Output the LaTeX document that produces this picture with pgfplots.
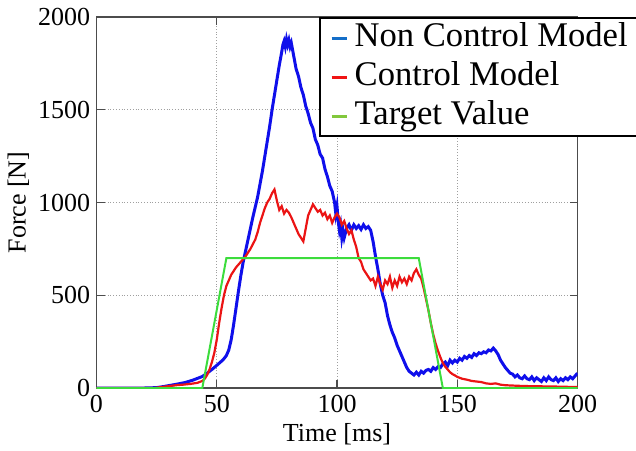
\documentclass[border=0pt]{standalone}
\usepackage{fontspec}
\setmainfont{Liberation Serif}
\newfontfamily\tnr{Liberation Serif}
\usepackage{pgfplots}
\pgfplotsset{compat=1.18}
\definecolor{cBlue}{RGB}{15,15,235}
\definecolor{cRed}{RGB}{235,20,20}
\definecolor{cGreen}{RGB}{60,220,60}
\definecolor{lBlue}{RGB}{20,110,200}
\definecolor{lRed}{RGB}{240,20,20}
\definecolor{lGreen}{RGB}{130,200,60}
\newcommand{\tkfont}{\tnr\fontsize{13}{15}\selectfont}
\newcommand{\lgfont}{\tnr\fontsize{17.3}{19}\selectfont}
\begin{document}
\begin{tikzpicture}
\begin{axis}[
    at={(0,0)}, anchor=south west,
    width=240.5pt, height=185.5pt, scale only axis,
    xmin=0, xmax=200, ymin=0, ymax=2000,
    xtick={0,50,100,150,200}, ytick={0,500,1000,1500,2000},
    xticklabels={{\tkfont 0},{\tkfont 50},{\tkfont 100},{\tkfont 150},{\tkfont 200}},
    yticklabels={{\tkfont 0},{\tkfont 500},{\tkfont 1000},{\tkfont 1500},{\tkfont 2000}},
    grid=major, grid style={densely dotted, gray!75, line width=0.5pt},
    axis line style={black!70, line width=0.8pt},
    tick style={black!70, line width=0.6pt}, tick align=inside, major tick length=4pt,
    yticklabel style={inner sep=3pt},
    xlabel={\tkfont Time [ms]}, ylabel={\tkfont Force [N]},
    xlabel style={yshift=1.5pt},
    ylabel style={yshift=-2pt},
    legend style={at={(0.4626,1)}, anchor=north west, draw=black, line width=1pt,
      inner sep=0.5pt, row sep=0.5pt, column sep=1.85pt,
      nodes={inner sep=1.5pt, text height=12pt, text depth=4pt}},
    legend cell align=left,
    legend image code/.code={\path (0pt,0pt); \draw[#1] (4.5pt,0pt) -- (12pt,0pt);},
]
\addlegendimage{lBlue, line width=1.5pt}
\addlegendentry{\lgfont Non Control Model\kern12pt}
\addlegendimage{lRed, line width=1.5pt}
\addlegendentry{\lgfont Control Model}
\addlegendimage{lGreen, line width=1.5pt}
\addlegendentry{\lgfont Target Value}
% non control model
\addplot[forget plot, cBlue, line width=1.5pt] coordinates {
  (0,0) (20,0) (25,2) (28,8) (31,15) (34,22) (37,30) (40,42) (42,52) (44,62)
  (46,80) (48,100) (50,122) (52,145) (53,158) (54,175) (55,205) (56,260) (57,340) (58,430)
  (59,520) (60,605) (61,680) (62,740) (63,800) (64,860) (65,920) (66,975) (67,1030)
  (68,1100) (69,1170) (70,1250) (71,1330) (72,1410) (73,1500) (74,1580) (75,1660)
  (76,1740) (77,1810) (77.5,1850) (78,1870) (78.5,1840) (79,1880) (79.5,1850)
  (80,1875) (80.5,1840) (81,1860) (82,1790) (83,1720) (84,1680) (85,1620) (86,1580)
  (87,1520) (88,1480) (89,1430) (90,1400) (91,1340) (92,1310) (93,1260) (94,1240)
  (95,1180) (96,1140) (97,1090) (98,1060) (99,1000) (99.5,940) (100,980) (100.5,900)
  (101,850) (101.5,880) (102,810) (102.5,850) (103,810) (104,860) (105,880) (106,850) (107,880) (108,860)
  (109,875) (110,855) (111,880) (112,860) (113,870) (114,850) (115,790) (116,710)
  (117,640) (118,560) (119,500) (120,460) (121,390) (122,340) (123,300) (124,270)
  (125,230) (126,200) (127,170) (128,140) (129,110) (130,90) (131,80) (132,70)
  (133,85) (134,70) (135,90) (136,80) (137,95) (138,100) (139,90) (140,110)
  (141,100) (142,115) (143,110) (144,130) (145,140) (146,120) (147,150) (148,135)
  (149,150) (150,140) (151,160) (152,150) (153,170) (154,160) (155,175) (156,165)
  (157,185) (158,175) (159,190) (160,185) (161,195) (162,190) (163,205) (164,200)
  (165,215) (166,200) (167,180) (168,150) (169,130) (170,110) (171,95) (172,80)
  (173,75) (174,60) (175,70) (176,55) (177,50) (178,65) (179,50) (180,45) (181,60)
  (182,40) (183,55) (184,45) (185,35) (186,55) (187,40) (188,60) (189,45) (190,40)
  (191,55) (192,35) (193,50) (194,40) (195,55) (196,45) (197,60) (198,50) (199,65)
  (200,80)};
% control model
\addplot[forget plot, cRed, line width=1.1pt] coordinates {
  (0,0) (24,0) (27,5) (30,10) (33,15) (36,18) (39,22) (42,28) (44,38) (45,50)
  (46,70) (47,100) (48,140) (49,190) (50,260) (51,350) (52,430) (53,500) (54,550)
  (55,580) (56,610) (57,630) (58,650) (59,665) (60,680) (61,695) (62,710) (63,730)
  (64,750) (65,775) (66,800) (67,840) (68,890) (69,930) (70,970) (71,1000) (72,1020)
  (73,1050) (74,1070) (75,1010) (76,960) (77,980) (78,940) (79,960) (80,945)
  (81,920) (82,890) (83,860) (84,830) (85,810) (86,790) (87,860) (88,930) (89,960)
  (90,990) (91,970) (92,950) (93,960) (94,930) (95,945) (96,910) (97,930) (98,890)
  (99,920) (100,940) (101,920) (102,880) (103,900) (104,860) (105,830) (106,850)
  (107,800) (108,760) (109,700) (110,680) (111,640) (112,620) (113,600) (114,580)
  (115,590) (116,550) (117,600) (118,560) (119,530) (120,580) (121,560) (122,600)
  (123,540) (124,580) (125,550) (126,600) (127,570) (128,590) (129,560) (130,600)
  (131,580) (132,620) (133,640) (134,610) (135,590) (136,540) (137,480) (138,420)
  (139,350) (140,290) (141,240) (142,200) (143,165) (144,135) (145,115) (146,100)
  (147,85) (148,75) (149,68) (150,60) (152,50) (154,45) (156,38) (158,35) (160,32)
  (162,25) (164,22) (166,25) (168,18) (170,15) (175,12) (180,10) (190,8) (200,5)};
% target value
\addplot[forget plot, cGreen, line width=1pt] coordinates {
  (0,0) (44,0) (54,700) (134,700) (144,0) (200,0)};
\end{axis}
\pgfresetboundingbox
\useasboundingbox (-48.25pt,-31pt) rectangle (269.75pt,194pt);
\end{tikzpicture}
\end{document}
